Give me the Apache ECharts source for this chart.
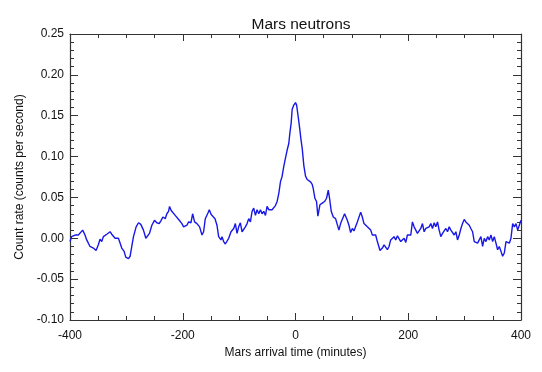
<!DOCTYPE html>
<html>
<head>
<meta charset="utf-8">
<script src="https://cdn.jsdelivr.net/npm/echarts@6/dist/echarts.min.js"></script>
<style>
html,body{margin:0;padding:0;background:#fff;}
#chart{width:542px;height:372px;}
</style>
</head>
<body>
<div id="chart"></div>
<script>
const chartTitle = 'Mars neutrons';
const xAxisName = 'Mars arrival time (minutes)';
const yAxisName = 'Count rate (counts per second)';

const times = [
-400.0,-397.1,-391.1,-388.2,-385.2,-382.2,-377.5,-373.4,-370.4,-367.4,-364.5,-361.5,-358.5,-353.8,-349.7,-346.7,-343.7,-340.8,-334.8,-328.9,
-326.0,-323.0,-320.0,-314.1,-311.1,-308.2,-304.0,-301.1,-296.3,-293.4,-290.4,-287.4,-282.7,-278.5,-274.4,-269.7,-265.5,-262.5,-259.0,-254.8,
-250.1,-246.0,-241.8,-238.3,-235.3,-231.1,-228.2,-225.2,-223.4,-220.5,-217.5,-213.4,-210.4,-206.2,-201.5,-198.5,-195.6,-192.6,-189.6,-185.5,
-182.5,-179.0,-174.8,-170.1,-168.9,-165.9,-163.0,-160.0,-155.3,-152.9,-149.6,-146.4,-142.8,-139.3,-136.3,-132.2,-130.4,-127.4,-124.5,-121.5,
-118.5,-114.4,-109.6,-106.7,-103.7,-100.8,-97.8,-94.8,-91.9,-88.9,-85.9,-83.0,-80.0,-77.0,-74.1,-71.1,-68.2,-65.2,-62.2,-59.3,
-56.3,-53.3,-50.4,-47.4,-44.5,-41.5,-38.5,-35.6,-32.6,-29.6,-26.7,-23.7,-20.8,-17.8,-14.8,-11.9,-10.1,-7.7,-5.9,-3.0,
0.0,2.0,4.7,7.7,9.5,11.9,14.8,17.8,20.7,23.7,26.7,29.6,31.4,34.4,37.3,39.7,43.3,47.4,51.5,55.1,
58.1,60.4,63.4,67.0,71.1,74.1,77.0,80.0,83.0,87.1,91.9,94.8,97.8,100.8,103.7,106.7,109.7,112.6,115.6,118.5,
121.5,127.4,130.4,133.4,136.3,139.3,142.2,145.2,149.9,154.1,157.1,160.0,163.0,165.9,168.9,171.9,174.8,177.8,180.8,183.7,
186.7,189.7,192.6,195.6,198.5,201.5,204.5,207.4,210.4,213.4,216.3,219.3,222.2,225.2,228.2,231.1,234.1,237.1,240.0,243.0,
246.0,248.9,251.9,254.8,257.8,260.8,263.7,266.7,269.7,272.6,275.6,278.5,281.5,284.5,287.4,290.4,293.4,296.3,299.3,302.2,
305.2,308.2,311.1,314.1,317.1,320.0,323.0,326.0,328.9,331.9,334.8,337.8,340.8,343.7,346.7,349.7,352.6,355.6,358.5,361.5,
364.5,367.4,370.4,373.4,376.3,379.3,382.2,385.2,388.2,391.1,394.1,397.0,400.0
];

const counts = [
-0.004,0.002,0.004,0.002,0.004,0.002,0.010,0.004,-0.002,-0.006,-0.010,-0.008,-0.012,-0.015,-0.008,-0.001,-0.004,0.002,0.005,0.008,
0.005,0.006,0.000,0.000,-0.002,-0.012,-0.016,-0.023,-0.025,-0.022,-0.010,0.002,0.014,0.019,0.017,0.010,0.000,-0.002,0.006,0.016,
0.022,0.019,0.018,0.022,0.026,0.024,0.030,0.033,0.039,0.034,0.035,0.028,0.026,0.022,0.018,0.014,0.012,0.016,0.020,0.019,
0.030,0.020,0.018,0.014,0.013,0.004,0.008,0.024,0.031,0.035,0.029,0.030,0.024,0.016,0.002,-0.002,0.002,-0.004,-0.007,-0.007,
0.000,0.008,0.012,0.018,0.006,0.014,0.019,0.008,0.010,0.014,0.018,0.024,0.020,0.033,0.037,0.028,0.035,0.030,0.035,0.030,
0.033,0.028,0.039,0.035,0.037,0.035,0.035,0.040,0.045,0.055,0.069,0.076,0.088,0.098,0.108,0.116,0.128,0.141,0.158,0.163,
0.166,0.163,0.149,0.133,0.122,0.110,0.089,0.076,0.072,0.071,0.069,0.066,0.061,0.049,0.045,0.027,0.041,0.043,0.045,0.049,
0.059,0.049,0.033,0.026,0.024,0.022,0.010,0.018,0.020,0.030,0.022,0.016,0.007,0.012,0.009,0.010,0.020,0.018,0.032,0.026,
0.018,0.014,0.012,0.010,0.004,0.003,0.004,-0.004,-0.015,-0.012,-0.008,-0.008,-0.014,-0.010,-0.002,0.000,0.002,-0.002,0.003,0.002,
-0.004,-0.002,0.000,-0.005,0.004,0.006,0.004,0.020,0.014,0.010,0.006,0.004,0.012,0.018,0.008,0.012,0.010,0.014,0.018,0.012,
0.019,0.014,0.020,0.010,0.002,0.006,0.004,0.012,0.008,0.014,0.010,0.008,0.004,0.008,-0.002,0.004,0.012,0.018,0.023,0.020,
0.022,0.016,0.012,0.008,-0.004,-0.002,-0.006,-0.004,0.002,-0.010,0.000,-0.004,0.002,-0.002,0.004,-0.004,0.002,-0.006,-0.014,-0.010,
-0.016,-0.022,-0.018,-0.004,-0.002,-0.006,0.000,0.018,0.014,0.018,0.010,0.016,0.022
];

const xRange = [-400, 400];
const xMajorStep = 200;
const yRange = [-0.10, 0.25];
const yMajorStep = 0.05;

const chart = echarts.init(document.getElementById('chart'), null, {renderer: 'canvas'});
const axisColor = '#333';
const font = 'Liberation Sans, Arial, Helvetica, sans-serif';

function xAxisCfg(pos, showLabel) {
  return {
    type: 'value', position: pos, min: xRange[0], max: xRange[1], interval: xMajorStep,
    name: showLabel ? xAxisName : '', nameLocation: 'middle', nameGap: 27,
    nameTextStyle: {color: '#111', fontSize: 12, fontFamily: font},
    axisLine: {show: true, onZero: false, lineStyle: {color: axisColor, width: 1.2}},
    axisTick: {show: true, inside: true, length: 7, lineStyle: {color: axisColor, width: 1}},
    minorTick: {show: true, splitNumber: 4, length: 4, lineStyle: {color: axisColor, width: 1}},
    axisLabel: {show: showLabel, color: '#111', fontSize: 12, fontFamily: font, margin: 10},
    splitLine: {show: false}, minorSplitLine: {show: false}
  };
}
function yAxisCfg(pos, showLabel) {
  return {
    type: 'value', position: pos, min: yRange[0], max: yRange[1], interval: yMajorStep,
    name: showLabel ? yAxisName : '', nameLocation: 'middle', nameGap: 44,
    nameTextStyle: {color: '#111', fontSize: 12, fontFamily: font},
    axisLine: {show: true, onZero: false, lineStyle: {color: axisColor, width: 1.2}},
    axisTick: {show: true, inside: true, length: 8, lineStyle: {color: axisColor, width: 1}},
    minorTick: {show: true, splitNumber: 5, length: 4, lineStyle: {color: axisColor, width: 1}},
    axisLabel: {show: showLabel, color: '#111', fontSize: 12, fontFamily: font, margin: 6,
      formatter: v => (Math.abs(v) < 1e-9 ? 0 : v).toFixed(2)},
    splitLine: {show: false}, minorSplitLine: {show: false}
  };
}

chart.setOption({
  animation: false,
  backgroundColor: '#fff',
  title: {
    text: chartTitle, left: 296, top: 12, textAlign: 'center',
    textStyle: {color: '#111', fontSize: 15.5, fontWeight: 'normal', fontFamily: font}
  },
  grid: {left: 70, right: 21, top: 34, bottom: 52, containLabel: false},
  xAxis: [xAxisCfg('bottom', true), xAxisCfg('top', false)],
  yAxis: [yAxisCfg('left', true), yAxisCfg('right', false)],
  series: [{
    type: 'line', xAxisIndex: 0, yAxisIndex: 0,
    data: times.map((t, i) => [t, counts[i]]),
    showSymbol: false, symbol: 'none', smooth: false,
    lineStyle: {color: '#1818e6', width: 1.4},
    clip: true
  }]
});
</script>
</body>
</html>
